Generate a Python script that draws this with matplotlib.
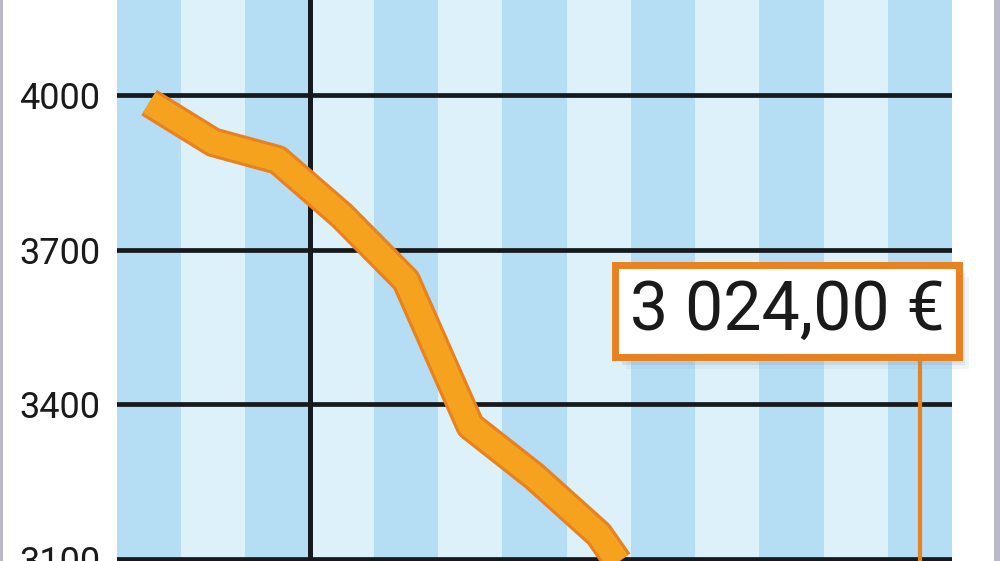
import matplotlib.pyplot as plt
from matplotlib.patches import Rectangle

# monthly values (euros), one per stripe
months = list(range(13))
values = [3985, 3908, 3874, 3766, 3640, 3358, 3260, 3148, 2970, 2985, 3005, 3000, 3024]
yticks = [3100, 3400, 3700, 4000]
last_label = "3 024,00 €"

dark_blue = '#b5def5'
light_blue = '#ddf1fb'
orange = '#f5a21f'
orange_edge = '#e8811f'

fig = plt.figure(figsize=(10, 5.61), dpi=100)
ax = fig.add_axes([0.117, 0.0, 0.835, 1.0])
ax.set_xlim(-0.5, 12.5)
ax.set_ylim(3096, 4184)

# alternating stripes
for m in months:
    ax.axvspan(m - 0.5, m + 0.5, color=dark_blue if m % 2 == 0 else light_blue, lw=0, zorder=0)

for v in yticks:
    ax.axhline(v, color='#161a1e', lw=3.4, zorder=1)
ax.axvline(2.5, color='#161a1e', lw=3.6, zorder=1)

# the curve: darker rim under a lighter fill
ax.plot(months, values, color=orange_edge, lw=21.5, solid_joinstyle='round', solid_capstyle='butt', zorder=3)
ax.plot(months, values, color=orange, lw=17, solid_joinstyle='round', solid_capstyle='butt', zorder=4)

ax.set_yticks(yticks)
ax.set_yticklabels([str(v) for v in yticks], fontsize=26, family='Roboto', color='#1a1a1a')
ax.tick_params(axis='y', length=0, pad=12)
ax.set_xticks([])
for s in ax.spines.values():
    s.set_visible(False)

# value box + connector
bx0, bx1, by0, by1 = 0.597, 1.008, 0.364, 0.527
ylo, yhi = ax.get_ylim()
box_bottom = ylo + by0 * (yhi - ylo)
ax.plot([months[-1], months[-1]], [values[-1], box_bottom], color=orange_edge, lw=3, zorder=5)
for k, a in [(1, 0.25), (2, 0.18), (3, 0.1)]:
    ax.add_patch(Rectangle((bx0 + 0.004 * k, by0 - 0.007 * k), bx1 - bx0, by1 - by0, transform=ax.transAxes,
                           color='#7f9aae', alpha=a, lw=0, clip_on=False, zorder=6))
ax.add_patch(Rectangle((bx0, by0), bx1 - bx0, by1 - by0, transform=ax.transAxes,
                       fc='white', ec=orange_edge, lw=5, clip_on=False, zorder=7))
ax.text((bx0 + bx1) / 2, (by0 + by1) / 2, last_label, transform=ax.transAxes, ha='center', va='center',
        fontsize=49, family='Roboto', color='#1a1a1a', zorder=8)

# thin grey frame edges
fig.patches.append(Rectangle((0, 0), 0.003, 1, transform=fig.transFigure, color='#b9b9c9', lw=0))
fig.patches.append(Rectangle((0.994, 0), 0.006, 1, transform=fig.transFigure, color='#b9b9c9', lw=0))

fig.savefig('out.png', dpi=100)
